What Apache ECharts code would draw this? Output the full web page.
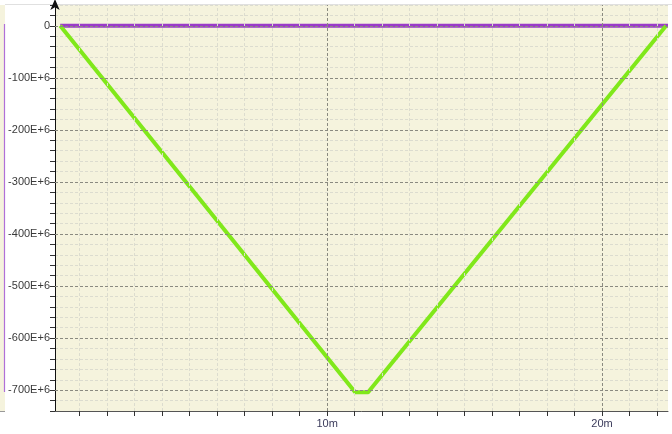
<!DOCTYPE html>
<html><head><meta charset="utf-8">
<script src="https://cdn.jsdelivr.net/npm/echarts@6/dist/echarts.min.js"></script>
<style>html,body{margin:0;padding:0;background:#fff}#c{width:672px;height:434px}</style>
</head><body><div id="c"></div>
<script>
// data (x in minutes, y in raw units)
const greenX = [0.29, 11.02, 11.49, 22.33];
const greenY = [0, -704e6, -704e6, 0];
const purpleX = [0.29, 22.4];
const purpleY = [0, 0];
const xMinorTicks = [1,2,3,4,5,6,7,8,9,10,11,12,13,14,15,16,17,18,19,20,21,22];
const xMajorTicks = [10, 20];
const xTickLabels = ['10m', '20m'];
const yMajorTicks = [0, -100e6, -200e6, -300e6, -400e6, -500e6, -600e6, -700e6];
const yTickLabels = ['0', '-100E+6', '-200E+6', '-300E+6', '-400E+6', '-500E+6', '-600E+6', '-700E+6'];

const chart = echarts.init(document.getElementById('c'), null, {renderer: 'canvas'});
const font = 'Liberation Sans, Arial, sans-serif';
const majorLine = {color: '#8a8a80', width: 1, type: [3, 2]};
const minorLine = {color: '#dcdccf', width: 1, type: [3, 2]};

chart.setOption({
  animation: false,
  backgroundColor: '#fff',
  grid: {left: 55, right: 4, top: 5, bottom: 23, show: true, backgroundColor: '#f5f3dd', borderWidth: 0},
  xAxis: {
    type: 'value', min: 0.1, max: 22.4,
    axisLine: {show: true, onZero: false, lineStyle: {color: '#555', width: 1}},
    axisTick: {show: true, length: 5, customValues: xMinorTicks, lineStyle: {color: '#333'}},
    axisLabel: {customValues: xMajorTicks, formatter: v => xTickLabels[xMajorTicks.indexOf(v)] || '',
      color: '#3a3a5a', fontFamily: font, fontSize: 11, margin: 7},
    splitLine: {show: false}
  },
  yAxis: {
    type: 'value', min: -740e6, max: 40e6, interval: 20e6,
    axisLine: {show: true, onZero: false, symbol: ['none', 'arrow'], symbolSize: [7, 11], symbolOffset: [0, 6], lineStyle: {color: '#111', width: 1}},
    axisTick: {show: true, length: 5, lineStyle: {color: '#333'}},
    axisLabel: {formatter: v => { const i = yMajorTicks.indexOf(v); return i >= 0 ? yTickLabels[i] : ''; },
      color: '#3a3a3a', fontFamily: font, fontSize: 11, margin: 5},
    splitLine: {show: true, lineStyle: minorLine}
  },
  series: [
    {
      type: 'line', z: 1, data: [], silent: true,
      markLine: {silent: true, symbol: ['none', 'none'], label: {show: false}, lineStyle: minorLine, animation: false,
        data: xMinorTicks.filter(v => xMajorTicks.indexOf(v) < 0).map(v => ({xAxis: v}))}
    },
    {
      type: 'line', z: 1, data: [], silent: true,
      markLine: {silent: true, symbol: ['none', 'none'], label: {show: false}, lineStyle: majorLine, animation: false,
        data: yMajorTicks.map(v => ({yAxis: v})).concat(xMajorTicks.map(v => ({xAxis: v})))}
    },
    {
      type: 'line', z: 3, showSymbol: false, data: purpleX.map((x, i) => [x, purpleY[i]]),
      lineStyle: {color: '#9a3bc8', width: 4}
    },
    {
      type: 'line', z: 4, showSymbol: false, data: greenX.map((x, i) => [x, greenY[i]]),
      lineStyle: {color: '#80e81a', width: 4, join: 'round'}
    }
  ],
  graphic: [
    {type: 'rect', shape: {x: 0, y: 5, width: 5, height: 407}, style: {fill: '#f5f3dd'}, silent: true},
    {type: 'line', shape: {x1: 4.5, y1: 24, x2: 4.5, y2: 392}, style: {stroke: '#b070d8', lineWidth: 1.2}, silent: true},
    {type: 'line', shape: {x1: 0, y1: 411.5, x2: 5, y2: 411.5}, style: {stroke: '#999', lineWidth: 1}, silent: true},
    {type: 'line', shape: {x1: 5, y1: 4.5, x2: 672, y2: 4.5}, style: {stroke: '#e0e0e0', lineWidth: 1}, silent: true}
  ]
});
</script></body></html>
